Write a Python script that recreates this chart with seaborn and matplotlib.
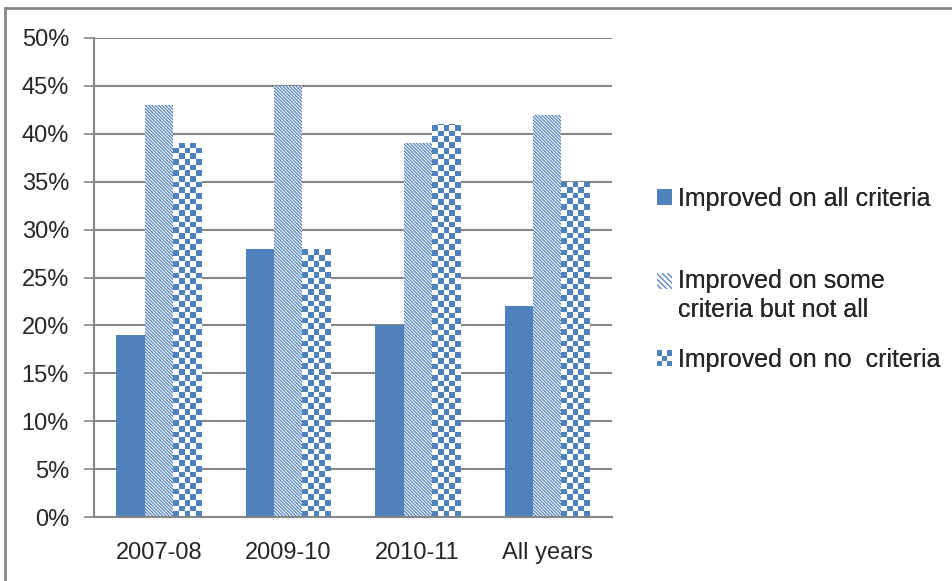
import numpy as np
import pandas as pd
import seaborn as sns
import matplotlib.pyplot as plt
from matplotlib.patches import Rectangle
from matplotlib.lines import Line2D
from matplotlib.colors import ListedColormap
from matplotlib.legend_handler import HandlerBase

# Data
years = ['2007-08', '2009-10', '2010-11', 'All years']
series = ['Improved on all criteria',
          'Improved on some\ncriteria but not all',
          'Improved on no  criteria']
all_criteria = [19, 28, 20, 22]
some_criteria = [43, 45, 39, 42]
no_criteria = [39, 28, 41, 35]

df = pd.DataFrame({
    'year': years * 3,
    'series': [series[0]] * 4 + [series[1]] * 4 + [series[2]] * 4,
    'pct': all_criteria + some_criteria + no_criteria,
})

blue = '#4F81BD'
grey = '#868686'
diag = '\\' * 10

sns.set_style('white')
plt.rcParams['font.family'] = ['Liberation Sans', 'DejaVu Sans']
plt.rcParams['hatch.linewidth'] = 0.9
plt.rcParams['hatch.color'] = blue

fig = plt.figure(figsize=(9.53, 5.81), dpi=100)
ax = fig.add_axes([94 / 953, 1 - 517 / 581, 518 / 953, 479 / 581])

sns.barplot(data=df, x='year', y='pct', hue='series', palette=[blue] * 3,
            width=0.655, saturation=1, ax=ax, legend=False)

for bar in ax.containers[0]:
    bar.set_linewidth(0)

# diagonal hatched series
for bar in ax.containers[1]:
    bar.set_facecolor('white')
    bar.set_edgecolor(blue)
    bar.set_linewidth(0)
    bar.set_hatch(diag)

# checkered series
checker = np.indices((200, 20)).sum(axis=0) % 2
px_x = 130.0          # pixels per category
px_y = 479.0 / 50     # pixels per percent
for bar in ax.containers[2]:
    bar.set_facecolor('white')
    bar.set_linewidth(0)
    x0, y0 = bar.get_x(), bar.get_y()
    w, h = bar.get_width(), bar.get_height()
    ncol = 5
    sq_h = (w / ncol) * px_x / px_y
    nrow = max(1, int(np.ceil(h / sq_h)))
    im = ax.imshow(checker[:nrow, :ncol][::-1], cmap=ListedColormap(['white', blue]),
                   extent=(x0, x0 + w, y0, y0 + nrow * sq_h), origin='lower',
                   aspect='auto', interpolation='nearest', zorder=2)
    im.set_clip_path(bar)

ax.set_xlim(-0.5, 3.5)
ax.set_ylim(0, 50)
ax.set_yticks(range(0, 51, 5))
ax.set_yticklabels([f'{v}%' for v in range(0, 51, 5)], fontsize=17)
ax.set_xticks(range(4))
ax.set_xticklabels(years, fontsize=17)
ax.set_xticks([-0.5, 0.5, 1.5, 2.5, 3.5], minor=True)
ax.tick_params(axis='x', which='major', length=0, pad=18)
ax.tick_params(axis='x', which='minor', length=8, width=1.2, color=grey, direction='out')
ax.tick_params(axis='y', length=7, width=1.2, color=grey, pad=11, left=True)
ax.set_xlabel('')
ax.set_ylabel('')
ax.yaxis.grid(True, color=grey, linewidth=1.5)
ax.set_axisbelow(True)
for s in ['top', 'right']:
    ax.spines[s].set_visible(False)
for s in ['left', 'bottom']:
    ax.spines[s].set_color(grey)
    ax.spines[s].set_linewidth(1.5)


class SwatchHandler(HandlerBase):
    def __init__(self, kind, shift=0.0):
        super().__init__()
        self.kind = kind
        self.shift = shift

    def create_artists(self, legend, orig_handle, xdescent, ydescent,
                       width, height, fontsize, trans):
        x, y = -xdescent, -ydescent + self.shift
        if self.kind == 'solid':
            return [Rectangle((x, y), width, height, facecolor=blue,
                              linewidth=0, transform=trans)]
        if self.kind == 'diag':
            return [Rectangle((x, y), width, height, facecolor='white',
                              edgecolor=blue, hatch='\\' * 6, linewidth=0,
                              transform=trans)]
        n = 3
        arts = []
        for i in range(n):
            for j in range(n):
                if (i + j) % 2 == 0:
                    arts.append(Rectangle((x + i * width / n, y + j * height / n),
                                          width / n, height / n, facecolor=blue,
                                          linewidth=0, transform=trans))
        return arts


# legend: one entry per legend so the uneven spacing can be kept
entries = [(series[0], 'solid', 0.0, 199),
           (series[1], 'diag', 11.2, 295.5),
           (series[2], 'check', 0.0, 360)]
for label, kind, shift, ypix in entries:
    h = Rectangle((0, 0), 1, 1)
    leg = fig.legend([h], [label], loc='center left',
                     bbox_to_anchor=(657 / 953, 1 - ypix / 581), frameon=False,
                     fontsize=18, handlelength=0.6, handleheight=0.6,
                     handletextpad=0.25, borderpad=0, borderaxespad=0,
                     handler_map={h: SwatchHandler(kind, shift)})
    for t in leg.get_texts():
        t.set_linespacing(1.3)
    fig.add_artist(leg)

# outer frame (top and left edges only)
fig.add_artist(Line2D([0.005, 1.0], [0.987, 0.987], transform=fig.transFigure,
                      color=grey, linewidth=2))
fig.add_artist(Line2D([0.005, 0.005], [0.0, 0.987], transform=fig.transFigure,
                      color=grey, linewidth=2))

fig.savefig('out.png', dpi=100)
